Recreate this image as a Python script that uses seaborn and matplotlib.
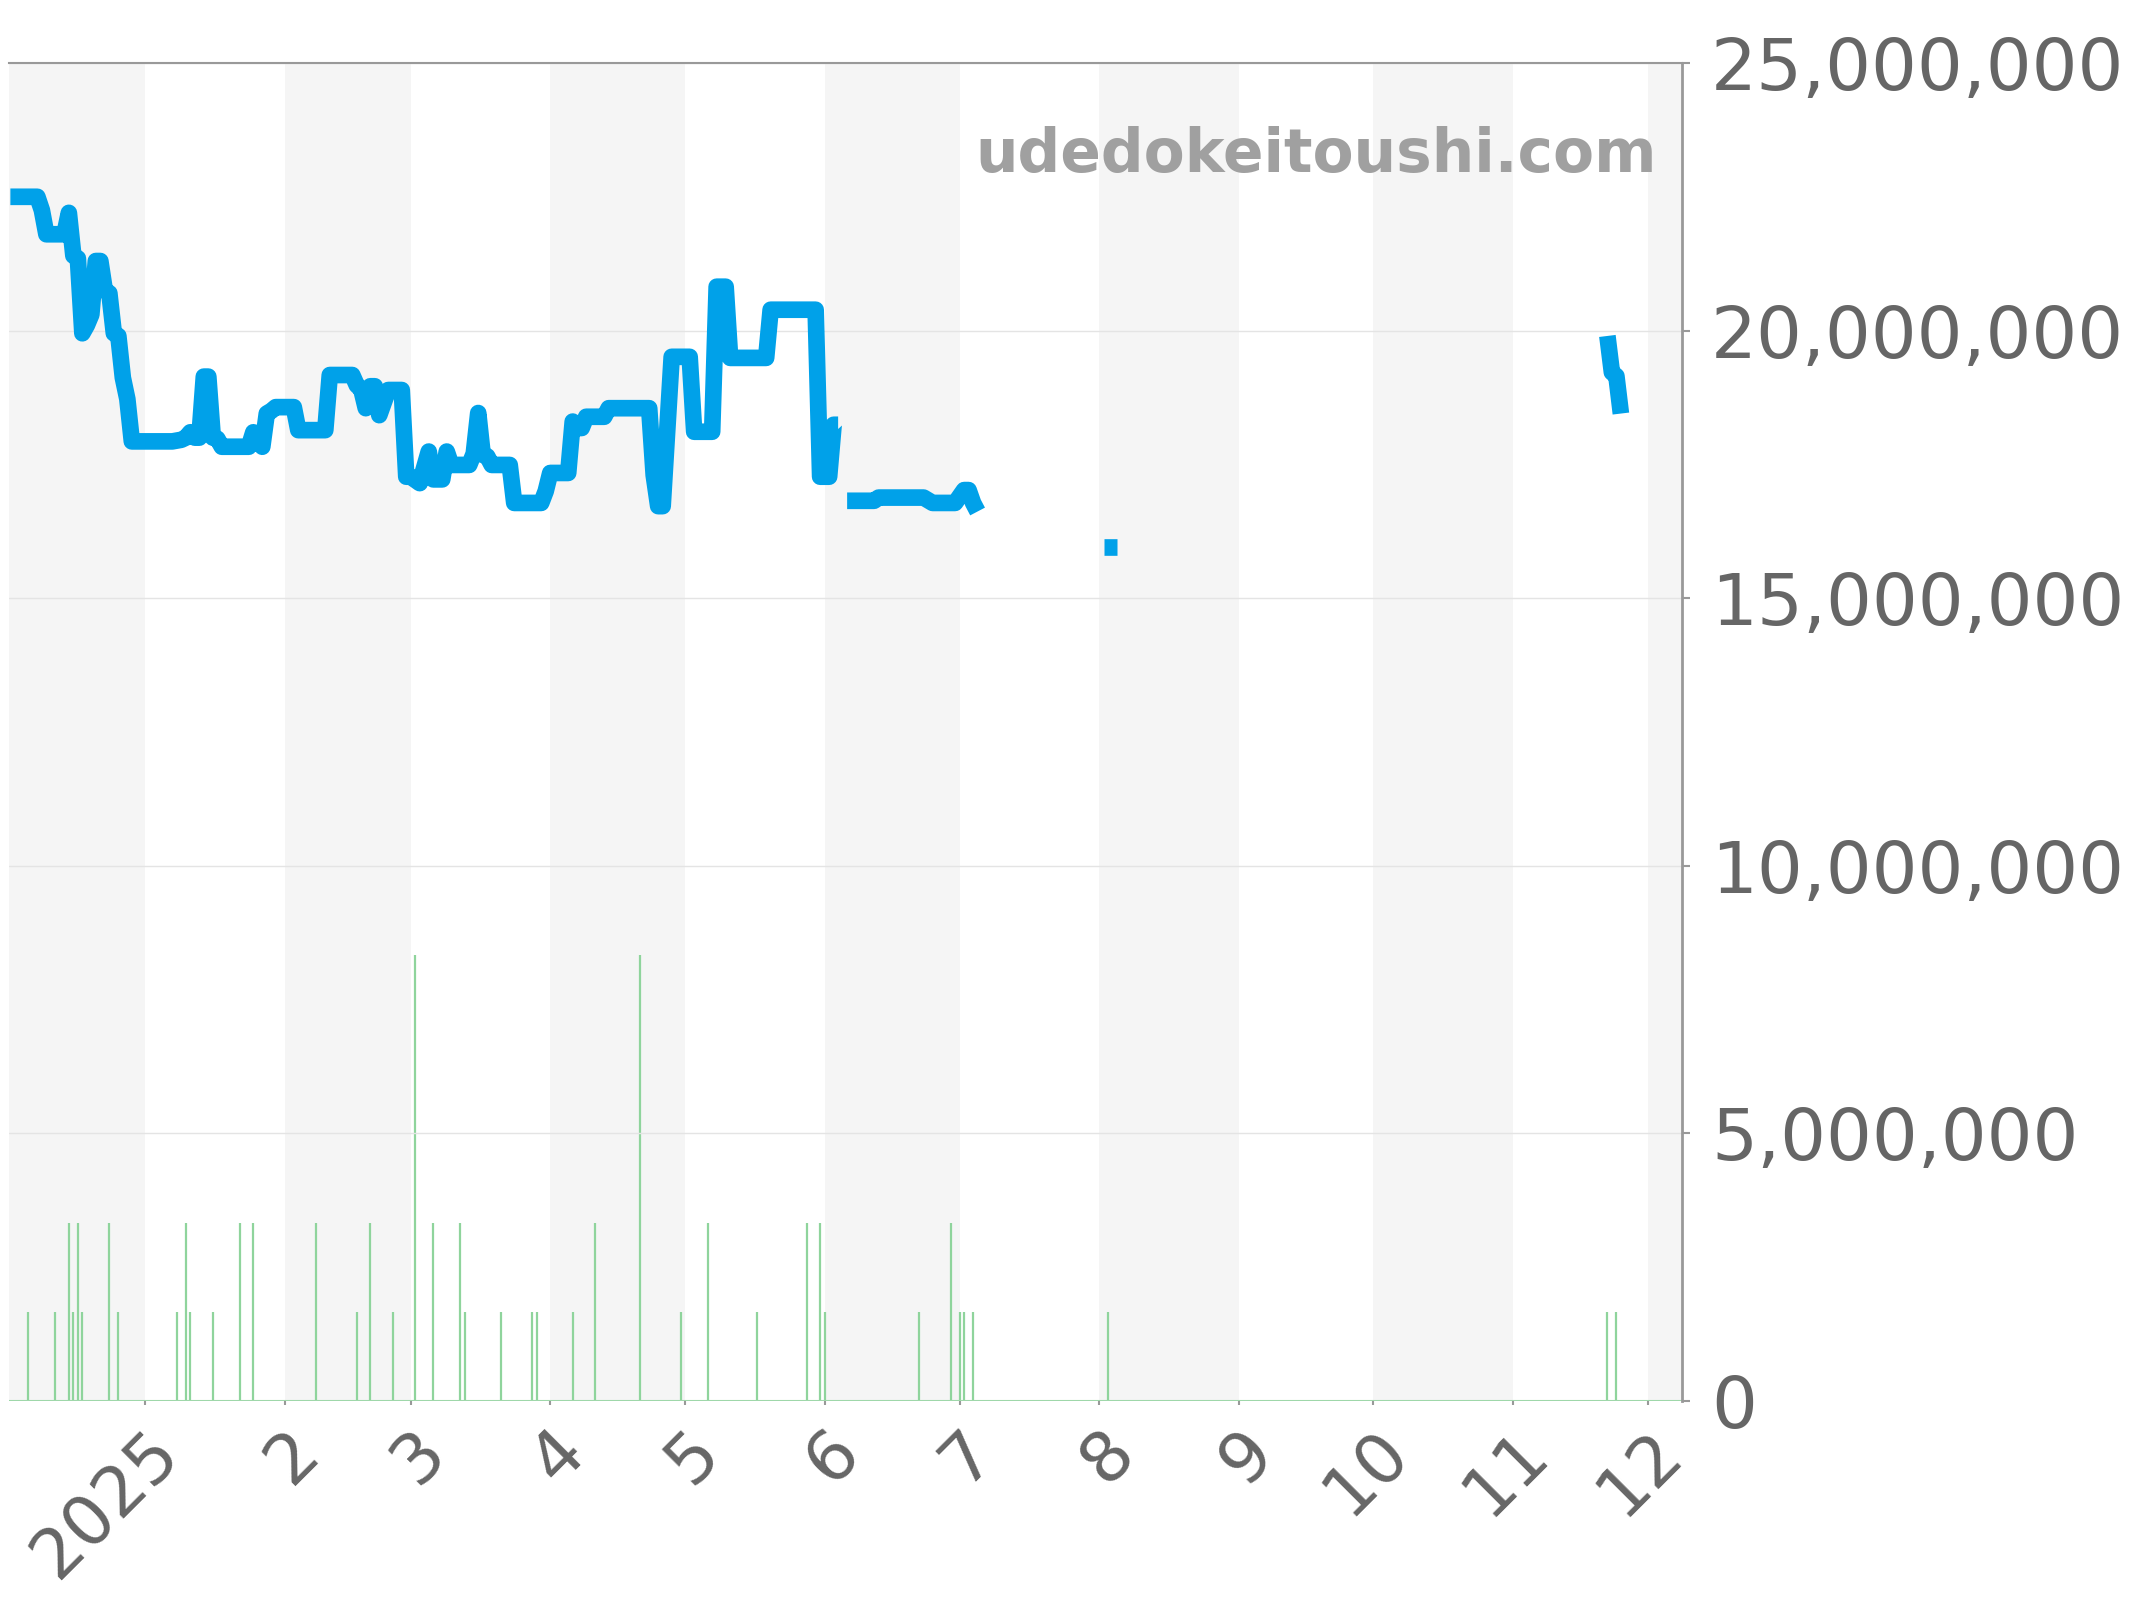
import matplotlib
matplotlib.use("Agg")
import matplotlib.pyplot as plt
import pandas as pd
import seaborn as sns
from matplotlib.ticker import FuncFormatter

# ---------------- data ----------------
# price (yen), segments separated where the source series has gaps
seg1_dates = ["2024-12-02", "2024-12-08", "2024-12-09", "2024-12-10", "2024-12-14", "2024-12-15",
              "2024-12-16", "2024-12-17", "2024-12-18", "2024-12-19", "2024-12-20", "2024-12-21",
              "2024-12-22", "2024-12-23", "2024-12-24", "2024-12-25", "2024-12-26", "2024-12-27",
              "2024-12-28", "2024-12-29", "2025-01-07", "2025-01-09", "2025-01-10", "2025-01-11",
              "2025-01-12", "2025-01-13", "2025-01-14", "2025-01-15", "2025-01-16", "2025-01-17",
              "2025-01-18", "2025-01-24", "2025-01-25", "2025-01-27", "2025-01-28", "2025-01-29",
              "2025-01-30", "2025-02-03", "2025-02-04", "2025-02-10", "2025-02-11", "2025-02-16",
              "2025-02-17", "2025-02-18", "2025-02-19", "2025-02-20", "2025-02-21", "2025-02-22",
              "2025-02-24", "2025-02-27", "2025-02-28", "2025-03-01", "2025-03-03", "2025-03-05",
              "2025-03-06", "2025-03-08", "2025-03-09", "2025-03-10", "2025-03-14", "2025-03-15",
              "2025-03-16", "2025-03-17", "2025-03-18", "2025-03-19", "2025-03-23", "2025-03-24",
              "2025-03-30", "2025-03-31", "2025-04-01", "2025-04-05", "2025-04-06", "2025-04-07",
              "2025-04-08", "2025-04-09", "2025-04-13", "2025-04-14", "2025-04-23", "2025-04-24",
              "2025-04-25", "2025-04-26", "2025-04-28", "2025-05-02", "2025-05-03", "2025-05-07",
              "2025-05-08", "2025-05-10", "2025-05-11", "2025-05-19", "2025-05-20", "2025-05-30",
              "2025-05-31", "2025-06-02", "2025-06-03", "2025-06-04"]
seg1_price = [22500000, 22500000, 22250000, 21800000, 21800000, 22200000,
              21400000, 21350000, 19950000, 20100000, 20300000, 21300000,
              21300000, 20750000, 20700000, 19950000, 19900000, 19120000,
              18720000, 17930000, 17930000, 17960000, 18000000, 18100000,
              18000000, 18000000, 19140000, 19140000, 18000000, 17980000,
              17830000, 17830000, 18100000, 17830000, 18450000, 18500000,
              18570000, 18570000, 18140000, 18140000, 19170000, 19170000,
              18980000, 18900000, 18550000, 18960000, 18960000, 18420000,
              18890000, 18890000, 17270000, 17270000, 17150000, 17740000,
              17220000, 17220000, 17740000, 17490000, 17490000, 17700000,
              18460000, 17680000, 17650000, 17490000, 17490000, 16780000,
              16780000, 17000000, 17340000, 17340000, 18300000, 18180000,
              18180000, 18390000, 18390000, 18550000, 18550000, 17300000,
              16720000, 16720000, 19510000, 19510000, 18110000, 18110000,
              20820000, 20820000, 19490000, 19490000, 20390000, 20390000,
              17270000, 17270000, 18240000, 18240000]

seg2_dates = ["2025-06-06", "2025-06-12", "2025-06-13", "2025-06-23", "2025-06-25",
              "2025-06-30", "2025-07-02", "2025-07-03", "2025-07-04", "2025-07-05"]
seg2_price = [16820000, 16820000, 16880000, 16880000, 16780000,
              16780000, 17020000, 17020000, 16780000, 16620000]

seg3_dates = ["2025-08-02", "2025-08-05"]
seg3_price = [15950000, 15950000]

seg4_dates = ["2025-11-22", "2025-11-23", "2025-11-24", "2025-11-25"]
seg4_price = [19900000, 19220000, 19150000, 18450000]

# trade volume (count per day)
vol_dates = ["2024-12-06", "2024-12-12", "2024-12-15", "2024-12-16", "2024-12-17", "2024-12-18",
             "2024-12-24", "2024-12-26", "2025-01-08", "2025-01-10", "2025-01-11", "2025-01-16",
             "2025-01-22", "2025-01-25", "2025-02-08", "2025-02-17", "2025-02-20", "2025-02-25",
             "2025-03-02", "2025-03-06", "2025-03-12", "2025-03-13", "2025-03-21", "2025-03-28",
             "2025-03-29", "2025-04-06", "2025-04-11", "2025-04-21", "2025-04-30", "2025-05-06",
             "2025-05-17", "2025-05-28", "2025-05-31", "2025-06-01", "2025-06-22", "2025-06-29",
             "2025-07-01", "2025-07-02", "2025-07-04", "2025-08-03", "2025-11-22", "2025-11-24"]
vol_counts = [1, 1, 2, 1, 2, 1,
              2, 1, 1, 2, 1, 1,
              2, 2, 2, 1, 2, 1,
              5, 2, 2, 1, 1, 1,
              1, 1, 2, 5, 1, 2,
              1, 2, 2, 1, 1, 2,
              1, 1, 1, 1, 1, 1]

month_starts = ["2025-01-01", "2025-02-01", "2025-03-01", "2025-04-01", "2025-05-01", "2025-06-01",
                "2025-07-01", "2025-08-01", "2025-09-01", "2025-10-01", "2025-11-01", "2025-12-01"]
month_labels = ["2025", "2", "3", "4", "5", "6", "7", "8", "9", "10", "11", "12"]
y_ticks = [0, 5000000, 10000000, 15000000, 20000000, 25000000]

# ---------------- frames ----------------
frames = []
for i, (d, p) in enumerate([(seg1_dates, seg1_price), (seg2_dates, seg2_price),
                            (seg3_dates, seg3_price), (seg4_dates, seg4_price)]):
    frames.append(pd.DataFrame({"date": pd.to_datetime(d), "price": p, "segment": i}))
price_df = pd.concat(frames, ignore_index=True)
vol_df = pd.DataFrame({"date": pd.to_datetime(vol_dates), "count": vol_counts})

# ---------------- style ----------------
sns.set_theme(style="white")
plt.rcParams["font.family"] = ["DejaVu Sans"]

W, H = 2144, 1600
L, R, T, B = 8.5, 1682, 63, 1401
fig = plt.figure(figsize=(W / 100, H / 100), dpi=100)
ax = fig.add_axes([L / W, 1 - B / H, (R - L) / W, (B - T) / H])
axv = ax.twinx()
ax.set_zorder(2)
axv.set_zorder(1)
ax.patch.set_visible(False)
axv.patch.set_visible(True)
axv.patch.set_facecolor("white")

xmin = pd.Timestamp("2024-12-01 14:00")
xmax = pd.Timestamp("2025-12-08 14:00")

# alternating month bands
band_edges = [pd.Timestamp("2024-12-01")] + list(pd.to_datetime(month_starts)) + [pd.Timestamp("2026-01-01")]
for i in range(len(band_edges) - 1):
    if i % 2 == 0:
        axv.axvspan(band_edges[i], band_edges[i + 1], color="#f5f5f5", lw=0, zorder=0)

green = "#8fd49c"
axv.vlines(vol_df["date"], 0, vol_df["count"], color=green, lw=1.6, zorder=2)
axv.axhline(0, color=green, lw=1.5, zorder=2)
axv.set_ylim(0, 15)
axv.set_yticks([])
for s in axv.spines.values():
    s.set_visible(False)

# price line
sns.lineplot(data=price_df, x="date", y="price", units="segment", estimator=None,
             color="#00a1e9", linewidth=12, ax=ax, legend=False,
             solid_capstyle="butt", solid_joinstyle="round", zorder=3)
for ln in ax.lines:
    ln.set_linewidth(12)
    ln.set_solid_joinstyle("round")
    ln.set_solid_capstyle("butt")

ax.set_xlim(xmin, xmax)
ax.set_ylim(0, 25000000)
ax.set_xlabel("")
ax.set_ylabel("")

ax.yaxis.tick_right()
ax.yaxis.set_label_position("right")
ax.set_yticks(y_ticks)
ax.yaxis.set_major_formatter(FuncFormatter(lambda v, p: f"{int(v):,}"))
ax.grid(axis="y", color="#e4e4e4", lw=1)
ax.grid(axis="x", visible=False)
ax.set_axisbelow(True)

ax.set_xticks(pd.to_datetime(month_starts))
ax.set_xticklabels(month_labels, rotation=45, ha="right", va="top", rotation_mode="anchor")

ax.tick_params(axis="y", which="major", left=False, right=True, length=6, width=1.5,
               color="#999999", labelsize=52, labelcolor="#666666", pad=15)
ax.tick_params(axis="x", which="major", bottom=True, length=3, width=1.5,
               color="#999999", labelsize=50, labelcolor="#666666", pad=9)

for side in ["left", "bottom"]:
    ax.spines[side].set_visible(False)
ax.spines["top"].set_color("#999999")
ax.spines["top"].set_linewidth(1.5)
ax.spines["right"].set_color("#999999")
ax.spines["right"].set_linewidth(2)

ax.text(0.985, 0.9185, "udedokeitoushi.com", transform=ax.transAxes, ha="right", va="baseline",
        fontsize=43, fontweight="bold", color="#a0a0a0", zorder=5)

fig.savefig("out.png", dpi=100, facecolor="white")
